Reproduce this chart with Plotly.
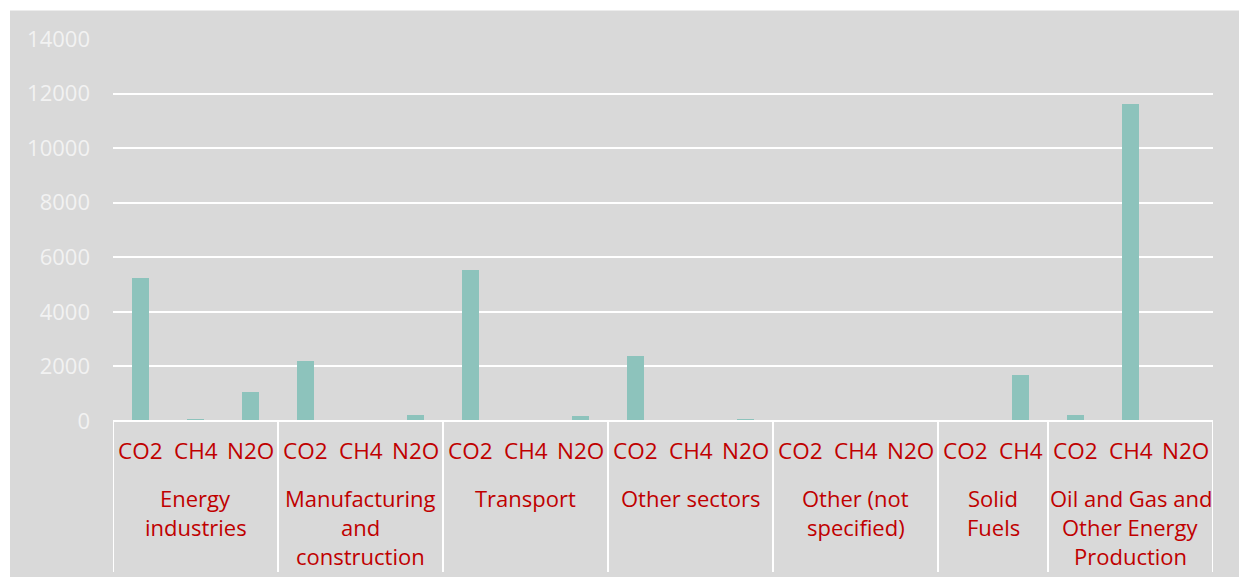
import plotly.graph_objects as go

# Emission sources and the gases reported for each
groups = ["Energy<br>industries", "Manufacturing<br>and<br>construction", "Transport",
          "Other sectors", "Other (not<br>specified)", "Solid<br>Fuels",
          "Oil and Gas and<br>Other Energy<br>Production"]
gases = [
    ["CO2", "CH4", "N2O"],
    ["CO2", "CH4", "N2O"],
    ["CO2", "CH4", "N2O"],
    ["CO2", "CH4", "N2O"],
    ["CO2", "CH4", "N2O"],
    ["CO2", "CH4"],
    ["CO2", "CH4", "N2O"],
]
values = [
    [5250, 70, 1070],
    [2200, 20, 210],
    [5540, 30, 190],
    [2390, 0, 90],
    [0, 0, 0],
    [0, 1700],
    [230, 11600, 0],
]
y_ticks = [0, 2000, 4000, 6000, 8000, 10000, 12000, 14000]

W, H = 1239, 577
L, R, T, B = 113, 26, 39, 156
plot_w, plot_h = W - L - R, H - T - B

BG = "#d9d9d9"
BAR = "#8dc3bc"
RED = "#c00000"
FONT = "Open Sans"

xs, ys, tick_x, tick_t = [], [], [], []
bounds = []
centers = []
i = 0
for g, vals in zip(gases, values):
    start = i
    for gas, v in zip(g, vals):
        xs.append(i)
        ys.append(v)
        tick_x.append(i)
        tick_t.append(gas)
        i += 1
    bounds.append(start - 0.5)
    centers.append((start + i - 1) / 2)
bounds.append(i - 0.5)
n = i

fig = go.Figure(go.Bar(x=xs, y=ys, width=0.31, marker=dict(color=BAR, line=dict(width=0)),
                       hoverinfo="x+y"))

def px_x(p):
    return (p - L) / plot_w

def px_y(p):
    return (H - B - p) / plot_h

shapes = [
    # white margin strips at top and left
    dict(type="rect", xref="paper", yref="paper", x0=px_x(0), x1=px_x(10), y0=px_y(H + 5), y1=px_y(-5),
         fillcolor="white", line=dict(width=0), layer="below"),
    dict(type="rect", xref="paper", yref="paper", x0=px_x(0), x1=px_x(W + 5), y0=px_y(10.5), y1=px_y(-5),
         fillcolor="white", line=dict(width=0), layer="below"),
]
# category dividers
for b in bounds:
    shapes.append(dict(type="line", xref="x", yref="paper", x0=b, x1=b, y0=0, y1=px_y(572),
                       line=dict(color="white", width=2)))
# baseline
shapes.append(dict(type="line", xref="x", yref="paper", x0=-0.5, x1=n - 0.5, y0=0, y1=0,
                   line=dict(color="white", width=2)))

annotations = []
for x, t in zip(tick_x, tick_t):
    annotations.append(dict(x=x, y=px_y(451), xref="x", yref="paper", text=t, showarrow=False,
                            xanchor="center", yanchor="middle",
                            font=dict(family=FONT, size=22.5, color=RED)))
for c, gname in zip(centers, groups):
    for k, line in enumerate(gname.split("<br>")):
        annotations.append(dict(x=c, y=px_y(498 + 29 * k), xref="x", yref="paper", text=line,
                                showarrow=False, xanchor="center", yanchor="middle",
                                font=dict(family=FONT, size=22, color=RED)))

fig.update_layout(
    width=W, height=H,
    margin=dict(l=L, r=R, t=T, b=B),
    paper_bgcolor=BG, plot_bgcolor=BG,
    showlegend=False,
    bargap=0,
    xaxis=dict(range=[-0.5, n - 0.5], showticklabels=False, showgrid=False, zeroline=False,
               showline=False, ticks=""),
    yaxis=dict(range=[0, 14000], tickvals=y_ticks, ticktext=[str(v) for v in y_ticks],
               showgrid=True, gridcolor="white", gridwidth=1.5, zeroline=False, showline=False,
               ticks="", ticklabelstandoff=22,
               tickfont=dict(family=FONT, size=22, color="#f2f2f2")),
    shapes=shapes,
    annotations=annotations,
)

fig.write_html("out.html")
